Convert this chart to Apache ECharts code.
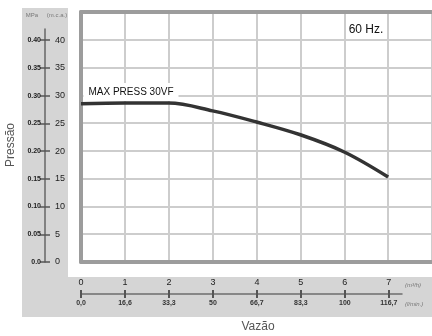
<!DOCTYPE html>
<html>
<head>
<meta charset="utf-8">
<script src="https://cdn.jsdelivr.net/npm/echarts@6/dist/echarts.min.js"></script>
<style>
html, body { margin: 0; padding: 0; background: #fff; }
#chart { width: 432px; height: 336px; }
</style>
</head>
<body>
<div id="chart"></div>
<script>
// curve: flow in m3/h, pressure in m.c.a.
var flowM3h = [0, 1, 2, 3, 4, 5, 6, 7];
var pressMca = [28.5, 28.6, 28.6, 27.2, 25.2, 22.9, 19.8, 15.3];

// scale labels
var mcaTicks = [0, 5, 10, 15, 20, 25, 30, 35, 40];
var mpaLabels = ['0.0', '0.05', '0.10', '0.15', '0.20', '0.25', '0.30', '0.35', '0.40'];
var flowTicks = [0, 1, 2, 3, 4, 5, 6, 7];
var flowLmin = ['0,0', '16,6', '33,3', '50', '66,7', '83,3', '100', '116,7'];

var curve = flowM3h.map(function (q, i) { return [q, pressMca[i]]; });

var myChart = echarts.init(document.getElementById('chart'));
var font = 'Liberation Sans, Arial, sans-serif';
var frame = '#9c9c9c';
var gridCol = '#cdcdcd';
var hidden = {
    type: 'value', min: 0, max: 1,
    axisLine: { show: false }, axisTick: { show: false },
    axisLabel: { show: false }, splitLine: { show: false }
};

option = {
    animation: false,
    textStyle: { fontFamily: font },
    grid: [
        { left: 81, top: 12, width: 352, height: 250 },
        { left: 45, top: 29, width: 1, height: 233 },
        { left: 81, top: 293, width: 321, height: 1 }
    ],
    xAxis: [
        {
            gridIndex: 0, type: 'value', min: 0, max: 8, interval: 1,
            axisLine: { lineStyle: { color: frame, width: 4 } },
            axisTick: { show: false }, axisLabel: { show: false },
            splitLine: { lineStyle: { color: gridCol, width: 2 } }
        },
        {
            gridIndex: 0, type: 'value', position: 'top', min: 0, max: 8,
            axisLine: { show: true, lineStyle: { color: frame, width: 4 } },
            axisTick: { show: false }, axisLabel: { show: false },
            splitLine: { show: false }
        },
        {
            gridIndex: 2, type: 'value', position: 'top', min: 0, max: 7.3,
            axisLine: { show: false },
            axisTick: { customValues: flowTicks, length: 4, lineStyle: { color: '#555', width: 2 } },
            axisLabel: {
                customValues: flowTicks, margin: 6, color: '#222', fontSize: 9
            },
            splitLine: { show: false }
        },
        {
            gridIndex: 2, type: 'value', position: 'bottom', min: 0, max: 7.3,
            axisLine: { lineStyle: { color: '#6e6e6e', width: 1.5 } },
            axisTick: { customValues: flowTicks, length: 4, lineStyle: { color: '#555', width: 2 } },
            axisLabel: {
                customValues: flowTicks, margin: 6, color: '#333', fontSize: 7, fontWeight: 'bold',
                formatter: function (v) { return flowLmin[Math.round(v)]; }
            },
            splitLine: { show: false }
        },
        Object.assign({ gridIndex: 1 }, hidden)
    ],
    yAxis: [
        {
            gridIndex: 0, type: 'value', min: 0, max: 45, interval: 5,
            axisLine: { show: true, lineStyle: { color: frame, width: 4 } },
            axisTick: { show: false }, axisLabel: { show: false },
            splitLine: { lineStyle: { color: gridCol, width: 2 } }
        },
        {
            gridIndex: 1, type: 'value', position: 'left', min: 0, max: 42,
            axisLine: { show: true, lineStyle: { color: '#666', width: 1.5 } },
            axisTick: { show: true, customValues: mcaTicks, length: 5, lineStyle: { color: '#555', width: 1.5 } },
            axisLabel: {
                customValues: mcaTicks, margin: 4, color: '#222', fontSize: 7, fontWeight: 'bold',
                formatter: function (v) { return mpaLabels[Math.round(v / 5)]; }
            },
            splitLine: { show: false }
        },
        {
            gridIndex: 1, type: 'value', position: 'left', min: 0, max: 42,
            axisLine: { show: false },
            axisTick: { show: true, inside: true, customValues: mcaTicks, length: 5, lineStyle: { color: '#555', width: 1.5 } },
            axisLabel: {
                inside: true, customValues: mcaTicks, margin: 10, color: '#222', fontSize: 9
            },
            splitLine: { show: false }
        },
        Object.assign({ gridIndex: 2 }, hidden)
    ],
    series: [{
        type: 'line',
        xAxisIndex: 0,
        yAxisIndex: 0,
        data: curve,
        smooth: 0.35,
        showSymbol: false,
        lineStyle: { color: '#333', width: 3.5 }
    }],
    graphic: [
        { type: 'rect', z: -10, shape: { x: 22, y: 8, width: 46, height: 270 }, style: { fill: '#d5d5d5' } },
        { type: 'rect', z: -10, shape: { x: 22, y: 277, width: 410, height: 40 }, style: { fill: '#d5d5d5' } },
        { type: 'text', z: 100, x: 131, y: 92, style: { text: 'MAX PRESS 30VF', font: '10px ' + font, fill: '#111', align: 'center', verticalAlign: 'middle', backgroundColor: '#fff', padding: [4, 5] } },
        { type: 'text', z: 100, x: 366, y: 30, style: { text: '60 Hz.', font: '12px ' + font, fill: '#111', align: 'center', verticalAlign: 'middle' } },
        { type: 'text', z: 100, x: 32, y: 15, style: { text: 'MPa', font: '6px ' + font, fill: '#777', align: 'center', verticalAlign: 'middle' } },
        { type: 'text', z: 100, x: 57, y: 15, style: { text: '(m.c.a.)', font: '6px ' + font, fill: '#777', align: 'center', verticalAlign: 'middle' } },
        { type: 'text', z: 100, x: 405, y: 285, style: { text: '(m³/h)', font: 'italic 6px ' + font, fill: '#777', align: 'left', verticalAlign: 'middle' } },
        { type: 'text', z: 100, x: 405, y: 304, style: { text: '(l/min.)', font: 'italic 6px ' + font, fill: '#777', align: 'left', verticalAlign: 'middle' } },
        { type: 'text', z: 100, x: 258, y: 327, style: { text: 'Vazão', font: '12px ' + font, fill: '#555', align: 'center', verticalAlign: 'middle' } },
        { type: 'text', z: 100, x: 11, y: 145, rotation: Math.PI / 2, style: { text: 'Pressão', font: '12px ' + font, fill: '#555', align: 'center', verticalAlign: 'middle' } }
    ]
};
myChart.setOption(option);
</script>
</body>
</html>
